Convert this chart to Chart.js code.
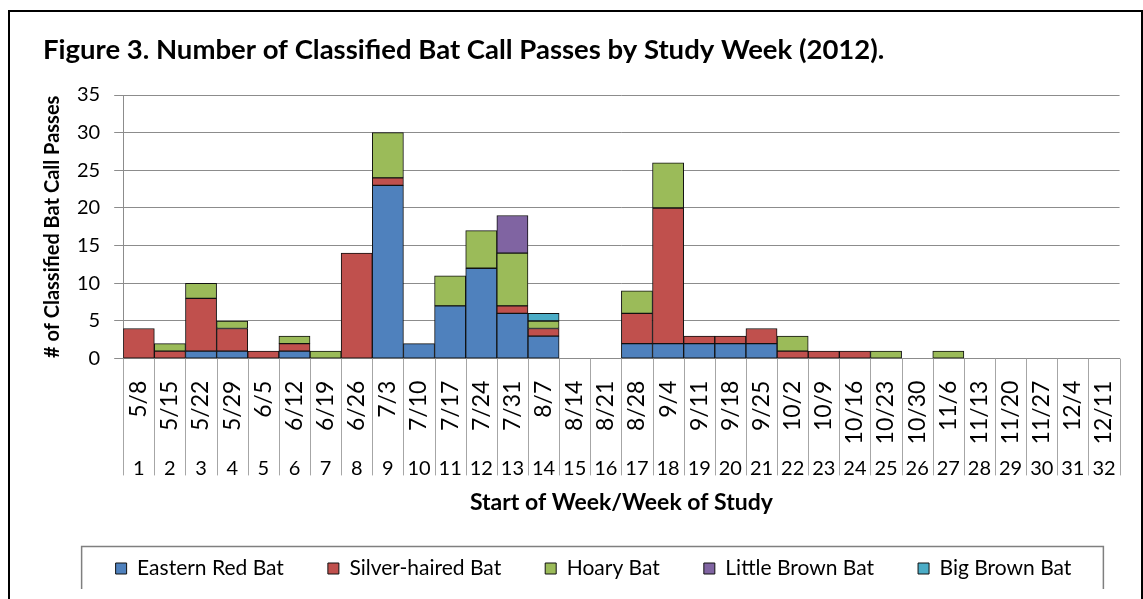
<!DOCTYPE html>
<html>
<head>
<meta charset="utf-8">
<script src="https://cdn.jsdelivr.net/npm/chart.js@4"></script>
<style>
  html, body { margin: 0; padding: 0; background: #fff; overflow: hidden; }
  #frame {
    position: absolute; left: 8px; top: 10px;
    width: 1131px; height: 600px;
    border: 2px solid #000;
  }
  #myChart { display: block; }
</style>
</head>
<body>
<div id="frame">
  <canvas id="myChart" width="1131" height="577"></canvas>
</div>
<script>
// 週の開始日
const dateLabels = ['5/8', '5/15', '5/22', '5/29', '6/5', '6/12', '6/19', '6/26', '7/3', '7/10', '7/17', '7/24', '7/31', '8/7', '8/14', '8/21',
  '8/28', '9/4', '9/11', '9/18', '9/25', '10/2', '10/9', '10/16', '10/23', '10/30', '11/6', '11/13', '11/20', '11/27', '12/4', '12/11'];
// 調査週
const weekLabels = ['1', '2', '3', '4', '5', '6', '7', '8', '9', '10', '11', '12', '13', '14', '15', '16',
  '17', '18', '19', '20', '21', '22', '23', '24', '25', '26', '27', '28', '29', '30', '31', '32'];

const easternRed = [null, null, 1, 1, null, 1, null, null, 23, 2, 7, 12, 6, 3, null, null,
  2, 2, 2, 2, 2, null, null, null, null, null, null, null, null, null, null, null];
const silverHaired = [4, 1, 7, 3, 1, 1, null, 14, 1, null, null, null, 1, 1, null, null,
  4, 18, 1, 1, 2, 1, 1, 1, null, null, null, null, null, null, null, null];
const hoary = [null, 1, 2, 1, null, 1, 1, null, 6, null, 4, 5, 7, 1, null, null,
  3, 6, null, null, null, 2, null, null, 1, null, 1, null, null, null, null, null];
const littleBrown = [null, null, null, null, null, null, null, null, null, null, null, null, 5, null, null, null,
  null, null, null, null, null, null, null, null, null, null, null, null, null, null, null, null];
const bigBrown = [null, null, null, null, null, null, null, null, null, null, null, null, null, 1, null, null,
  null, null, null, null, null, null, null, null, null, null, null, null, null, null, null, null];

const FONT = 'Lato, "Open Sans", sans-serif';
const gridGray = '#8c8c8c';

function bar(label, data, color) {
  return {
    label: label,
    data: data,
    backgroundColor: color,
    borderColor: '#111',
    borderWidth: 1,
    borderSkipped: false,
    barPercentage: 1,
    categoryPercentage: 1,
    xAxisID: 'x',
  };
}

// 区切り線と凡例の枠
const excelLines = {
  id: 'excelLines',
  afterDraw(chart) {
    const ctx = chart.ctx;
    const xs = chart.scales.x;
    const x2 = chart.scales.x2;
    const w = xs.getPixelForValue(1) - xs.getPixelForValue(0);
    const yEnd = x2.top + x2.options.ticks.padding + x2.options.ticks.font.size * 1.2 + 3;
    ctx.save();
    ctx.strokeStyle = '#a6a6a6';
    ctx.lineWidth = 1;
    for (let i = 0; i <= dateLabels.length; i++) {
      const px = Math.round(xs.getPixelForValue(0) - w / 2 + i * w) + 0.5;
      ctx.beginPath();
      ctx.moveTo(px, chart.chartArea.bottom);
      ctx.lineTo(px, yEnd);
      ctx.stroke();
    }
    const boxes = chart.legend.legendHitBoxes;
    if (boxes && boxes.length) {
      const first = boxes[0];
      const last = boxes[boxes.length - 1];
      const cy = first.top + first.height / 2;
      ctx.strokeStyle = '#7f7f7f';
      ctx.lineWidth = 1.5;
      ctx.strokeRect(first.left - 34, cy - 22, last.left + last.width - first.left + 66, 45);
    }
    ctx.restore();
  },
};

const config = {
  type: 'bar',
  data: {
    labels: dateLabels,
    datasets: [
      bar('Eastern Red Bat', easternRed, '#4F81BD'),
      bar('Silver-haired Bat', silverHaired, '#C0504D'),
      bar('Hoary Bat', hoary, '#9BBB59'),
      bar('Little Brown Bat', littleBrown, '#8064A2'),
      bar('Big Brown Bat', bigBrown, '#4BACC6'),
    ],
  },
  options: {
    responsive: false,
    animation: false,
    layout: { padding: { left: 33, right: -3, top: 0, bottom: 0 } },
    plugins: {
      title: {
        display: true,
        text: 'Figure 3. Number of Classified Bat Call Passes by Study Week (2012).',
        align: 'start',
        color: '#000',
        font: { family: FONT, size: 27.5, weight: 'bold' },
        padding: { top: 22, bottom: 28 },
      },
      legend: {
        position: 'bottom',
        labels: {
          color: '#000',
          font: { family: FONT, size: 21 },
          boxWidth: 11,
          boxHeight: 11,
          padding: 44,
        },
      },
      tooltip: { enabled: false },
    },
    scales: {
      x: {
        stacked: true,
        offset: true,
        weight: 0,
        grid: { display: false },
        border: { display: true, color: gridGray },
        ticks: {
          color: '#000',
          font: { family: FONT, size: 23, lineHeight: 1 },
          minRotation: 90,
          maxRotation: 90,
          autoSkip: false,
          padding: 14,
        },
      },
      x2: {
        type: 'category',
        labels: weekLabels,
        position: 'bottom',
        offset: true,
        weight: 1,
        grid: { display: false },
        border: { display: false },
        ticks: {
          color: '#000',
          font: { family: FONT, size: 20 },
          maxRotation: 0,
          autoSkip: false,
          padding: -10,
        },
        title: {
          display: true,
          text: 'Start of Week/Week of Study',
          color: '#000',
          font: { family: FONT, size: 23, weight: 'bold' },
          padding: { top: 18, bottom: -2 },
        },
      },
      y: {
        stacked: true,
        min: 0,
        max: 35,
        grid: { color: gridGray, tickLength: 9 },
        border: { display: true, color: gridGray },
        ticks: {
          stepSize: 5,
          color: '#000',
          font: { family: FONT, size: 20 },
          padding: 14,
        },
        title: {
          display: true,
          text: '# of Classified Bat Call Passes',
          color: '#000',
          font: { family: FONT, size: 20, weight: 'bold', lineHeight: 1 },
          padding: { top: 0, bottom: 0 },
        },
      },
    },
  },
  plugins: [excelLines],
};

const myChart = new Chart(document.getElementById('myChart'), config);
</script>
</body>
</html>
